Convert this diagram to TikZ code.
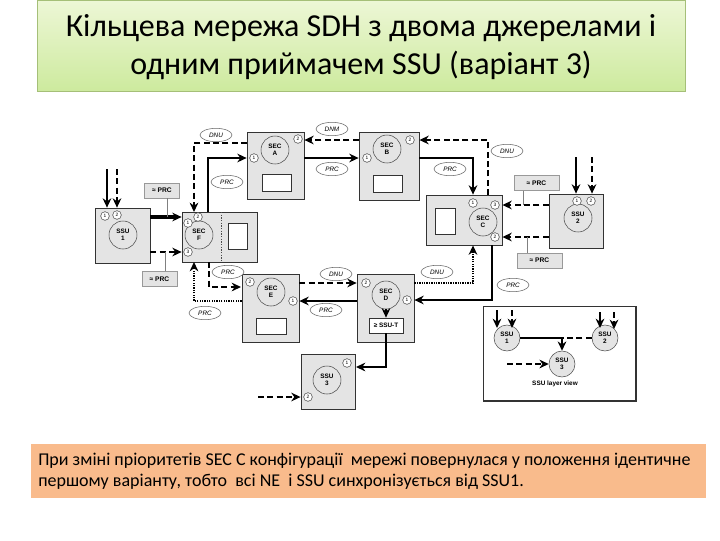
\documentclass[tikz,border=0pt]{standalone}
\usepackage{fontspec}
\setmainfont{Carlito}
\newfontfamily\labfont{Liberation Sans}
\usetikzlibrary{arrows.meta}
\usetikzlibrary{shapes.geometric}
\definecolor{bandtop}{HTML}{EDF7D6}
\definecolor{bandbot}{HTML}{CDEA9E}
\definecolor{bandline}{HTML}{A5BF78}
\definecolor{noteband}{HTML}{F9BB8C}
\definecolor{boxgray}{HTML}{E4E4E4}
\tikzset{
  unitbox/.style={draw=black!80, fill=boxgray, line width=.6pt, inner sep=0pt},
  panel/.style={draw=black!80, fill=white, line width=.6pt, inner sep=0pt},
  ring/.style={circle, draw=black!70, fill=boxgray, line width=.4pt, inner sep=0pt, minimum size=21pt, align=center, font=\labfont\bfseries\fontsize{4.8}{5.4}\selectfont},
  port/.style={circle, draw=black!70, fill=white, line width=.4pt, inner sep=0pt, minimum size=6.5pt, font=\labfont\fontsize{3.6}{4}\selectfont},
  tag/.style={ellipse, draw=black!60, fill=white, line width=.4pt, inner sep=0pt, minimum width=24pt, minimum height=10pt, font=\labfont\itshape\fontsize{4.8}{5}\selectfont},
  prcbox/.style={draw=black!40, fill=boxgray, line width=.5pt, inner sep=0pt, minimum width=26pt, minimum height=11pt, font=\labfont\bfseries\fontsize{5}{5.4}\selectfont},
  link/.style={line width=1.1pt, -{Stealth[length=7pt,width=6.5pt]}},
  main/.style={link, line width=1.3pt},
  back/.style={link, dash pattern=on 4.5pt off 2.5pt, line width=1.5pt},
  dots/.style={link, dash pattern=on 1pt off .8pt, line width=1.4pt},
  feed/.style={draw=black!50, line width=.5pt}
}
\begin{document}
\begin{tikzpicture}[x=0.75pt,y=-0.75pt]
\useasboundingbox (0,0) rectangle (720,540);
% title and note
\node [draw=bandline, top color=bandtop, bottom color=bandbot, minimum width=486pt, minimum height=68.2pt, inner sep=0pt] (title) at (361,45.5) {};
\node [align=center, font=\fontsize{24}{28.5}\selectfont] (titletext) at (361,47.5) {Кільцева мережа SDH з двома джерелами і\\одним приймачем SSU (варіант 3)};
\node [fill=noteband, minimum width=506pt, minimum height=40.5pt, inner sep=0pt] (note) at (368.5,471) {};
\node [align=left, anchor=west, inner sep=0pt, font=\fontsize{13.5}{15.8}\selectfont] (notetext) at (38,471) {При зміні пріоритетів SEC C конфігурації~ мережі повернулася у положення ідентичне\\першому варіанту, тобто~ всі NE~ і SSU синхронізується від SSU1.};
% units
\node [unitbox, minimum width=41.2pt, minimum height=41.2pt] (ssuOne) at (122.5,235.5) {};
\node [unitbox, minimum width=56.2pt, minimum height=37.5pt] (secF) at (219.5,237) {};
\node [unitbox, minimum width=42.7pt, minimum height=50.2pt] (secA) at (275.5,165.5) {};
\node [unitbox, minimum width=45pt, minimum height=51pt] (secB) at (389,166) {};
\node [unitbox, minimum width=57pt, minimum height=37.5pt] (secC) at (464,220) {};
\node [unitbox, minimum width=40.5pt, minimum height=40.5pt] (ssuTwo) at (576,221) {};
\node [unitbox, minimum width=42.7pt, minimum height=51pt] (secE) at (270.5,308) {};
\node [unitbox, minimum width=42.7pt, minimum height=51pt] (secD) at (385.5,308) {};
\node [unitbox, minimum width=40.5pt, minimum height=41.2pt] (ssuThree) at (328,381.5) {};
% panels
\node [panel, minimum width=14.2pt, minimum height=19.5pt] (panelF) at (237.5,236) {};
\node [panel, minimum width=21.7pt, minimum height=12.7pt] (panelA) at (276.5,182.5) {};
\node [panel, minimum width=21.7pt, minimum height=12.7pt] (panelB) at (387.5,183.5) {};
\node [panel, minimum width=15pt, minimum height=19.5pt] (panelC) at (445,221) {};
\node [panel, minimum width=22.5pt, minimum height=12pt] (panelE) at (271,326) {};
\node [panel, minimum width=25.5pt, minimum height=11.2pt, font=\labfont\bfseries\fontsize{4.8}{5}\selectfont] (ssuT) at (386,325.5) {≥ SSU-T};
\draw [black!70, dash pattern=on 1pt off 1pt, line width=.5pt] (221,212) -- (221,262);
% clocks
\node [ring] (ssuOneC) at (123,235) {SSU\\1};
\node [ring] (secFC) at (199,235) {SEC\\F};
\node [ring] (secAC) at (275,150) {SEC\\A};
\node [ring] (secBC) at (387,149) {SEC\\B};
\node [ring] (secCC) at (483,222) {SEC\\C};
\node [ring] (ssuTwoC) at (578,218) {SSU\\2};
\node [ring] (secEC) at (271,292) {SEC\\E};
\node [ring] (secDC) at (386,295) {SEC\\D};
\node [ring] (ssuThreeC) at (327,380) {SSU\\3};
% ports
\foreach \nm/\tx/\px/\py in {oneA/1/105/216, oneB/2/117/215, fA/1/188/223, fB/2/198/217, fC/3/188/252,
  aA/1/254/158, aB/2/298/139, bA/1/367/158, bB/2/410/140, cA/1/473/203, cB/3/495/205, cC/2/495/237,
  twoA/1/577/201, twoB/2/591/201, eA/2/250/282, eB/1/293/301, dA/2/366/283, dB/1/407/300,
  threeA/1/347/363, threeB/2/308/397}
  \node [port] (\nm) at (\px,\py) {\tx};
% free ends
\coordinate (inOneS) at (107,169);
\coordinate (inOneD) at (117,169);
\coordinate (inTwoS) at (576,157);
\coordinate (inTwoD) at (592,157);
\coordinate (inThree) at (258,397);
\coordinate (outADnu) at (247,143);
\coordinate (inFDnu) at (194,212);
\coordinate (outFPrc) at (208,212);
\coordinate (outFDash) at (209,262);
\coordinate (inFDot) at (194,262);
\coordinate (inEDash) at (241,287);
\coordinate (outCDnu) at (488,195);
\coordinate (outCPrc) at (492,245);
\coordinate (inThreeS) at (356,367);
% links
\draw [main] (inOneS) -- (inOneS |- ssuOne.north);
\draw [back] (inOneD) -- (inOneD |- ssuOne.north);
\draw [main, line width=2.6pt] (ssuOne.east |- fB) -- (secF.west |- fB);
\draw [back] (ssuOne.east |- fC) -- (secF.west |- fC);
\draw [back] (outADnu) -| (inFDnu);
\draw [main, line width=1.7pt] (outFPrc) |- (secA.west |- aA);
\draw [back] (secB.west |- bB) -- (secA.east |- bB);
\draw [main] (secA.east |- aA) -- (secB.west |- aA);
\draw [back] (outCDnu) |- (secB.east |- bB);
\draw [main] (secB.east |- bA) -| (cA |- secC.north);
\draw [main] (inTwoS) -- (inTwoS |- ssuTwo.north);
\draw [back] (inTwoD) -- (inTwoD |- ssuTwo.north);
\draw [back] (ssuTwo.west |- cB) -- (secC.east |- cB);
\draw [back] (ssuTwo.west |- cC) -- (secC.east |- cC);
\draw [main, line width=1.7pt] (outCPrc) |- (secD.east |- dB);
\draw [dots] (secD.east |- dA) -| (cA |- secC.south);
\draw [back, line width=1.3pt] (secE.east |- dA) -- (secD.west |- dA);
\draw [main] (secD.west |- eB) -- (secE.east |- eB);
\draw [back] (outFDash) |- (inEDash);
\draw [dots] (secE.west |- eB) -| (inFDot);
\draw [main, line width=1.7pt] (secDC.south) -- (ssuT.north);
\draw [main, line width=1.7pt] (ssuT.south) |- (inThreeS);
\draw [back] (inThree) -- (ssuThree.west |- threeB);
% pointers
\node [prcbox] (prcA) at (162,190.5) {≈ PRC};
\node [prcbox] (prcB) at (159.5,279) {≈ PRC};
\node [prcbox, minimum width=33.7pt] (prcC) at (536.5,183) {≈ PRC};
\node [prcbox, minimum width=33.7pt] (prcD) at (539.5,260.5) {≈ PRC};
\coordinate (feedA) at (167,217);
\coordinate (feedB) at (165,252);
\coordinate (feedC) at (523,205);
\coordinate (feedD) at (527,237);
\draw [feed] (feedA |- prcA.south) -- (feedA);
\draw [feed] (feedB |- prcB.north) -- (feedB);
\draw [feed] (feedC |- prcC.south) -- (feedC);
\draw [feed] (feedD |- prcD.north) -- (feedD);
% tags
\foreach \nm/\tx/\px/\py in {tagA/DNU/216/135, tagB/PRC/227/182, tagC/DNM/332/129, tagD/PRC/332/169,
  tagE/DNU/507/151, tagF/PRC/450/169, tagG/PRC/513/285, tagH/DNU/437/272, tagI/DNU/336/274,
  tagJ/PRC/326/310, tagK/PRC/228/272, tagL/PRC/205/313}
  \node [tag] (\nm) at (\px,\py) {\tx};
% SSU layer view
\node [draw=black!80, line width=.8pt, minimum width=114.7pt, minimum height=71.2pt, inner sep=0pt] (layer) at (559.5,353.5) {};
\node [ring, minimum size=19.5pt] (layerOne) at (507,338) {SSU\\1};
\node [ring, minimum size=19.5pt] (layerTwo) at (605,338) {SSU\\2};
\node [ring, minimum size=19.5pt] (layerThree) at (562,364) {SSU\\3};
\node [inner sep=0pt, font=\labfont\bfseries\fontsize{4.8}{5}\selectfont] (layerText) at (555,384) {SSU layer view};
\coordinate (layerJoin) at (layerThree |- layerOne);
\coordinate (layerOneS) at (497,310);
\coordinate (layerOneD) at (512,310);
\coordinate (layerTwoS) at (600,312);
\coordinate (layerTwoD) at (614,312);
\coordinate (layerIn) at (507,364);
\coordinate (layerOneDEnd) at (512,328);
\coordinate (layerTwoSEnd) at (600,328);
\coordinate (layerTwoDEnd) at (614,329);
\coordinate (layerOneSEnd) at (497,328);
\draw [main] (layerOneS) -- (layerOneSEnd);
\draw [back] (layerOneD) -- (layerOneDEnd);
\draw [main] (layerTwoS) -- (layerTwoSEnd);
\draw [back] (layerTwoD) -- (layerTwoDEnd);
\draw [line width=1.8pt] (layerOne.east) -- (layerJoin);
\draw [main, line width=1.4pt] (layerJoin) -- (layerThree.north);
\draw [line width=1.3pt, dash pattern=on 4.5pt off 2.5pt] (layerTwo.west) -- (layerJoin);
\draw [back, line width=1.2pt] (layerIn) -- (layerThree.west);
\end{tikzpicture}
\end{document}
